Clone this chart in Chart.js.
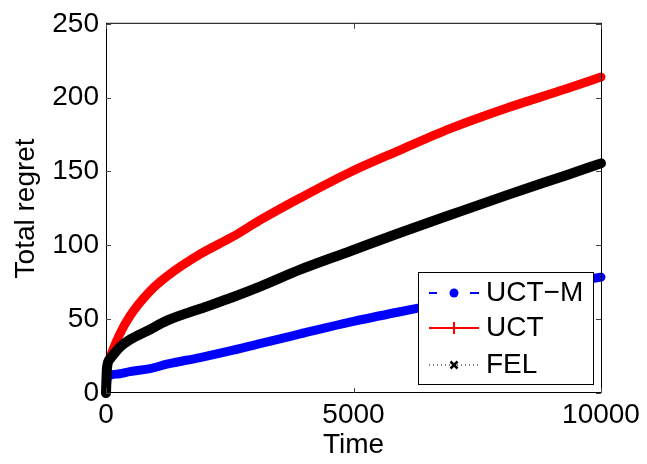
<!DOCTYPE html>
<html>
<head>
<meta charset="utf-8">
<script src="https://cdn.jsdelivr.net/npm/chart.js@4"></script>
<style>
  html, body { margin: 0; padding: 0; background: #fff; }
  canvas { display: block; }
</style>
</head>
<body>
<canvas id="myChart" width="647" height="464"></canvas>
<script>
const times = [0, 20, 80, 280, 480, 890, 1230, 1900, 2570, 3110, 3920, 4930, 5940, 6950, 8100, 9300, 10000];
const uctM = [0, 9, 12, 13, 14.5, 16.5, 19.5, 24, 29, 33.5, 40, 48, 55, 61.5, 68, 74.5, 78.5];
const uct = [0, 16, 24, 40, 52, 69, 79, 94, 106, 117, 132, 149.5, 164.5, 179, 193, 206, 214];
const fel = [0, 17, 23, 31, 36, 43, 49, 57, 65, 72, 83.5, 96, 108.5, 120.5, 134, 147.5, 155.5];
const yTicks = [0, 50, 100, 150, 200, 250];
const xTicks = [0, 5000, 10000];
const seriesNames = ["UCT\u2212M", "UCT", "FEL"];

const FONT = "'Liberation Sans', Arial, Helvetica, sans-serif";

function points(ys) {
  return times.map((t, i) => ({ x: t, y: ys[i] }));
}

// box, inward ticks and legend, matlab style
const matlabAxes = {
  id: "matlabAxes",
  afterDatasetsDraw(chart) {
    const { ctx, chartArea: a, scales } = chart;
    const x = scales.x, y = scales.y;
    ctx.save();
    ctx.strokeStyle = "#000";
    ctx.lineWidth = 1;
    ctx.strokeRect(a.left + 0.5, a.top - 0.5, a.right - a.left, a.bottom - a.top);

    ctx.strokeStyle = "#444";
    ctx.beginPath();
    yTicks.forEach(v => {
      const py = Math.round(y.getPixelForValue(v)) + 0.5;
      ctx.moveTo(a.left, py); ctx.lineTo(a.left + 5, py);
      ctx.moveTo(a.right, py); ctx.lineTo(a.right - 5, py);
    });
    xTicks.forEach(v => {
      const px = Math.round(x.getPixelForValue(v)) + 0.5;
      ctx.moveTo(px, a.bottom); ctx.lineTo(px, a.bottom - 5);
      ctx.moveTo(px, a.top); ctx.lineTo(px, a.top + 5);
    });
    ctx.stroke();

    // legend
    const lx = 418.5, ly = 272.5, lw = 175, lh = 112;
    ctx.fillStyle = "#fff";
    ctx.fillRect(lx, ly, lw, lh);
    ctx.strokeStyle = "#000";
    ctx.strokeRect(lx, ly, lw, lh);

    const rows = [293, 328, 365];
    const x0 = 429, x1 = 479, xm = 454;

    // UCT-M: dashed blue with dot
    ctx.strokeStyle = "#0000ff";
    ctx.lineWidth = 2;
    ctx.beginPath();
    ctx.moveTo(x0, rows[0]); ctx.lineTo(x0 + 8, rows[0]);
    ctx.moveTo(x1 - 9, rows[0]); ctx.lineTo(x1, rows[0]);
    ctx.stroke();
    ctx.fillStyle = "#0000ff";
    ctx.beginPath();
    ctx.arc(xm, rows[0], 4.5, 0, Math.PI * 2);
    ctx.fill();

    // UCT: solid red with plus
    ctx.strokeStyle = "#ff0000";
    ctx.lineWidth = 2;
    ctx.beginPath();
    ctx.moveTo(x0, rows[1]); ctx.lineTo(x1, rows[1]);
    ctx.moveTo(xm, rows[1] - 6); ctx.lineTo(xm, rows[1] + 6);
    ctx.stroke();

    // FEL: dotted black with x
    ctx.strokeStyle = "#000";
    ctx.lineWidth = 1;
    ctx.setLineDash([1, 3]);
    ctx.beginPath();
    ctx.moveTo(x0, rows[2]); ctx.lineTo(x1, rows[2]);
    ctx.stroke();
    ctx.setLineDash([]);
    ctx.lineWidth = 2.5;
    ctx.beginPath();
    ctx.moveTo(xm - 3.5, rows[2] - 3.5); ctx.lineTo(xm + 3.5, rows[2] + 3.5);
    ctx.moveTo(xm + 3.5, rows[2] - 3.5); ctx.lineTo(xm - 3.5, rows[2] + 3.5);
    ctx.stroke();

    ctx.fillStyle = "#000";
    ctx.font = "28px " + FONT;
    ctx.textAlign = "left";
    ctx.textBaseline = "middle";
    seriesNames.forEach((name, i) => ctx.fillText(name, 486, rows[i]));
    ctx.restore();
  }
};

let ctx = document.getElementById("myChart").getContext("2d");

let myChart = new Chart(ctx, {
  type: "line",
  data: {
    datasets: [
      {
        label: seriesNames[0],
        data: points(uctM),
        borderColor: "#0000ff",
        borderWidth: 9,
        order: 2,
      },
      {
        label: seriesNames[1],
        data: points(uct),
        borderColor: "#ff0000",
        borderWidth: 9,
        order: 1,
      },
      {
        label: seriesNames[2],
        data: points(fel),
        borderColor: "#000000",
        borderWidth: 10,
        order: 0,
      },
    ],
  },
  options: {
    responsive: false,
    animation: false,
    devicePixelRatio: 1,
    layout: { padding: { top: 20, right: 46, left: 0, bottom: 0 } },
    elements: {
      point: { radius: 0 },
      line: { cubicInterpolationMode: "monotone", fill: false, borderCapStyle: "round", borderJoinStyle: "round" },
    },
    datasets: { line: { clip: false } },
    plugins: { legend: { display: false }, tooltip: { enabled: false } },
    scales: {
      x: {
        type: "linear",
        min: 0,
        max: 10000,
        afterBuildTicks: s => { s.ticks = xTicks.map(v => ({ value: v })); },
        afterFit: s => { s.height = 71; },
        grid: { display: false, drawTicks: false },
        border: { display: false },
        ticks: { color: "#000", padding: 5, maxRotation: 0, callback: v => String(v), font: { family: FONT, size: 28 } },
        title: { display: true, text: "Time", color: "#000", padding: { top: 0, bottom: 2 }, font: { family: FONT, size: 28 } },
      },
      y: {
        min: 0,
        max: 250,
        afterBuildTicks: s => { s.ticks = yTicks.map(v => ({ value: v })); },
        afterFit: s => { s.width = 106; },
        grid: { display: false, drawTicks: false },
        border: { display: false },
        ticks: { color: "#000", padding: 7, callback: v => String(v), font: { family: FONT, size: 28 } },
        title: { display: true, text: "Total regret", color: "#000", padding: { top: 9, bottom: 0 }, font: { family: FONT, size: 28 } },
      },
    },
  },
  plugins: [matlabAxes],
});
</script>
</body>
</html>
